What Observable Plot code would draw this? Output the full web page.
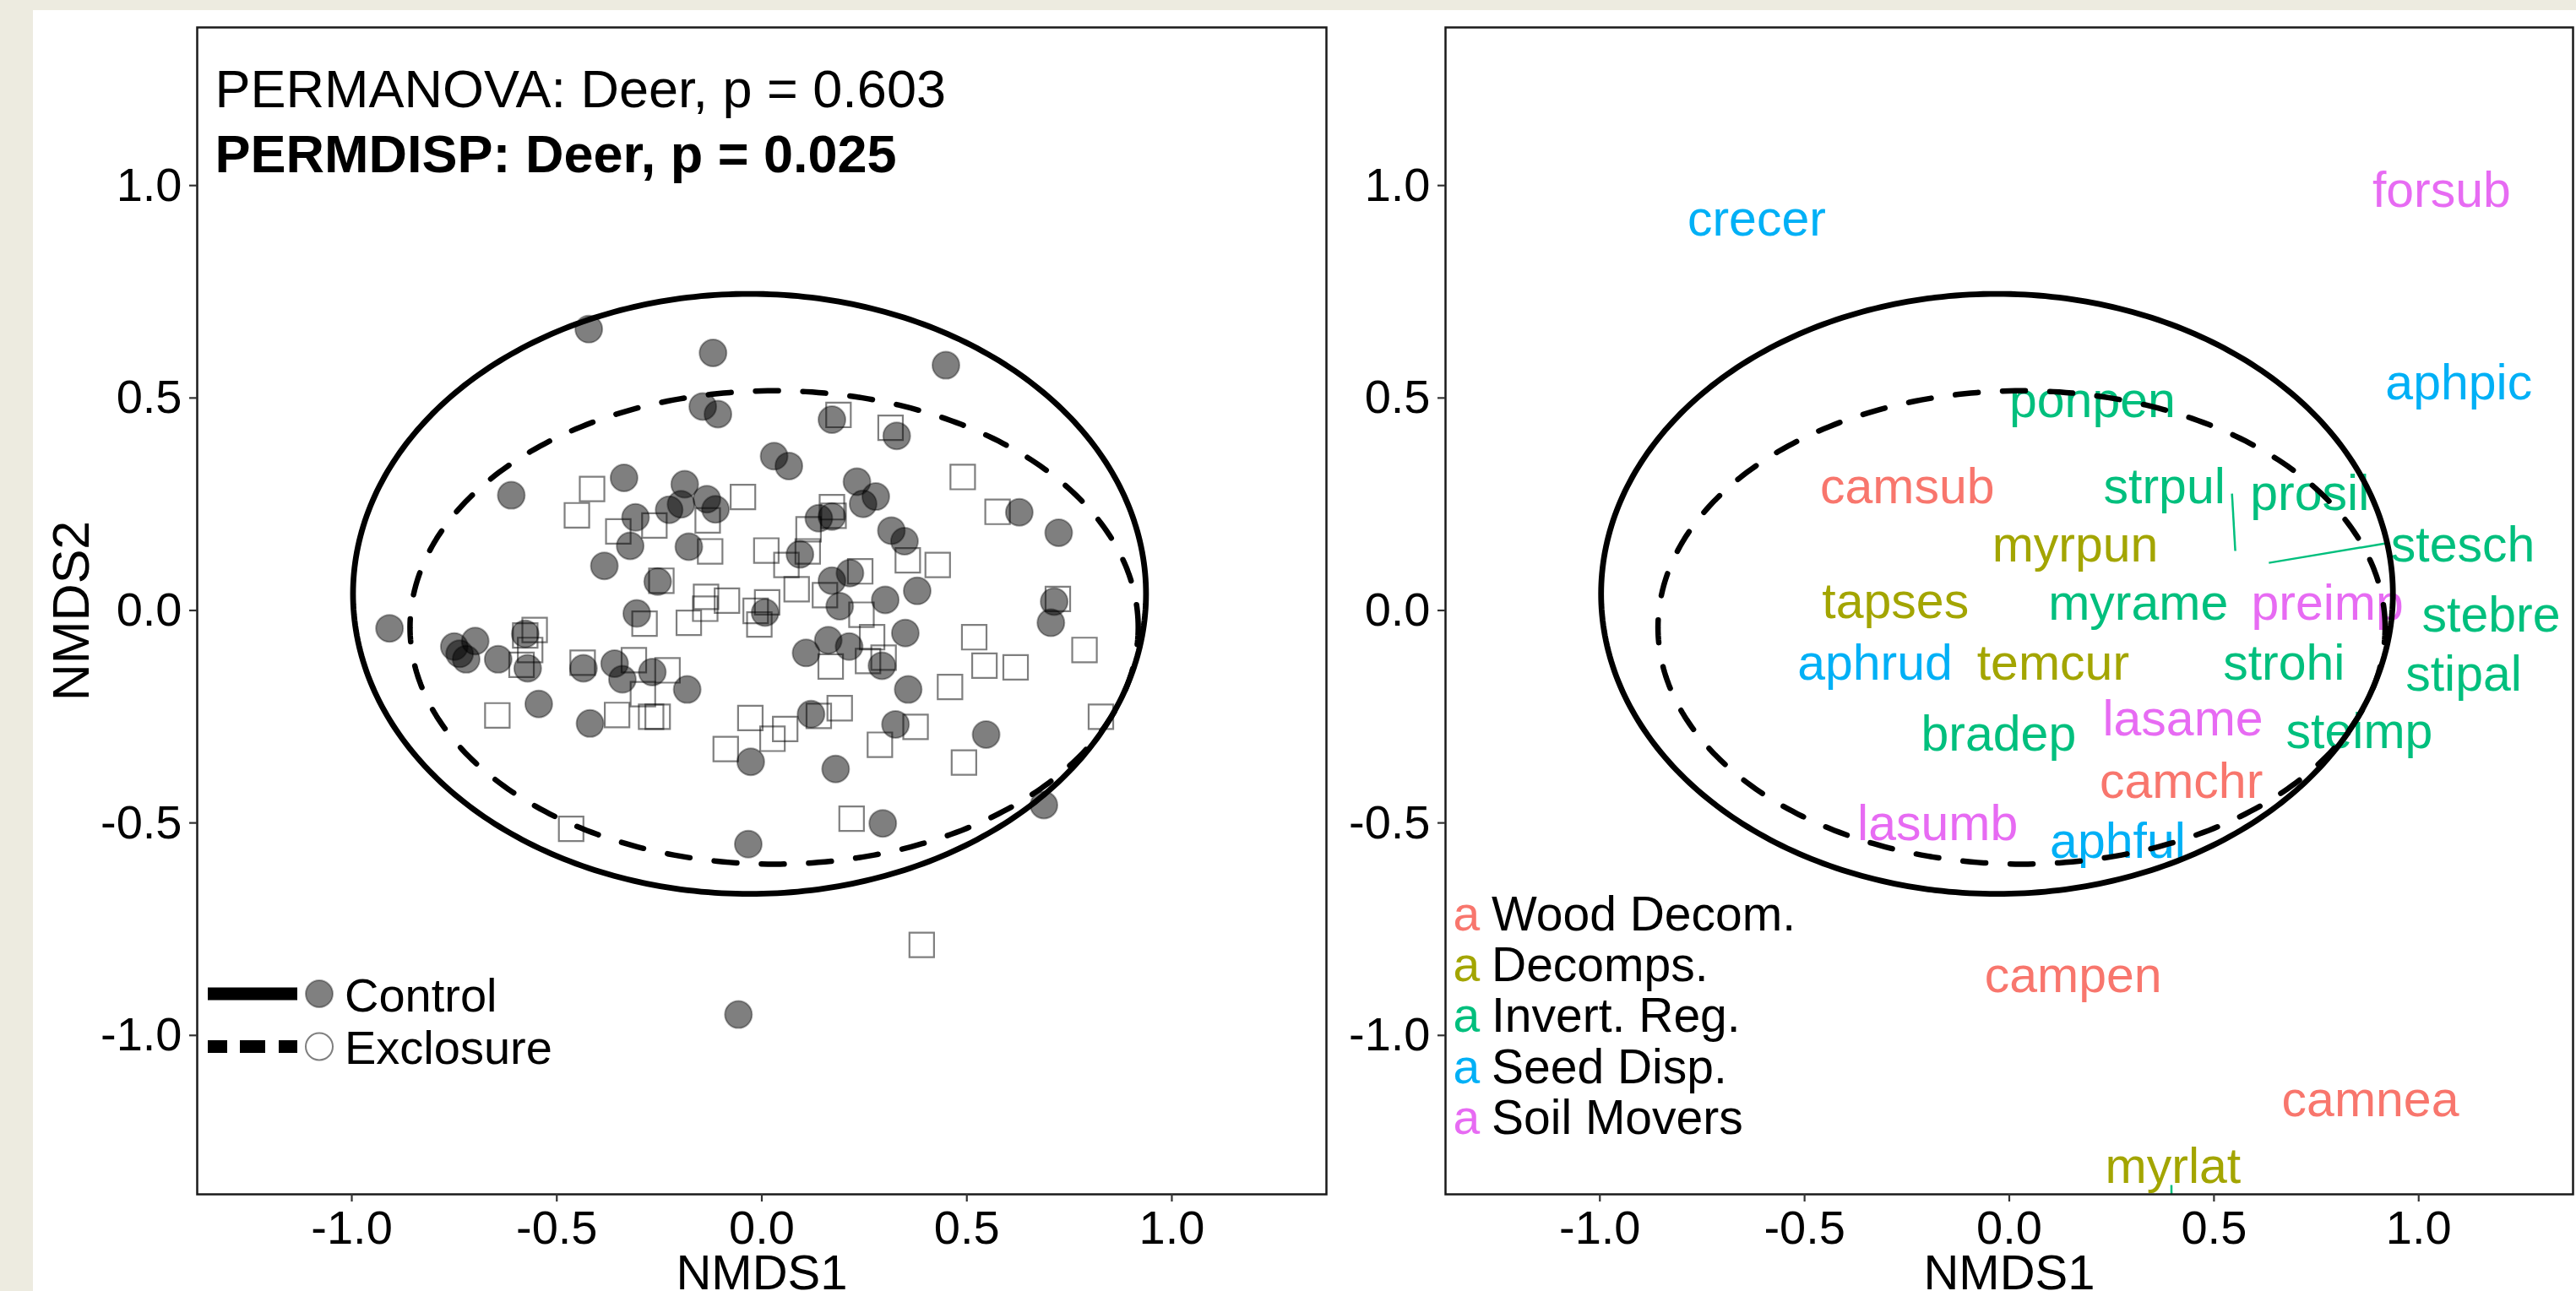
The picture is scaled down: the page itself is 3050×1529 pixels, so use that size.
<!DOCTYPE html>
<html>
<head>
<meta charset="utf-8">
<script src="https://cdn.jsdelivr.net/npm/d3@7"></script>
<script src="https://cdn.jsdelivr.net/npm/@observablehq/plot@0.6"></script>
<style>
html, body { margin: 0; padding: 0; }
body { width: 3050px; height: 1529px; overflow: hidden; background: #EDEBE0; position: relative;
       font-family: "Liberation Sans", Arial, Helvetica, sans-serif; }
#page { position: absolute; left: 39px; top: 12px; width: 3011px; height: 1517px; background: #fff; }
.abs { position: absolute; }
</style>
</head>
<body>
<div id="page"></div>
<script>
// ---------------- data ----------------
const controlX = [-0.422,-0.119,0.449,-0.144,-0.107,0.171,0.329,0.030,0.066,-0.611,
  -0.336,0.232,0.278,0.247,-0.188,-0.134,-0.197,-0.226,-0.113,-0.308,
  0.139,0.171,0.628,0.724,-0.321,-0.178,0.316,0.348,0.093,-0.384,
  0.215,0.171,-0.254,0.379,0.301,0.190,0.713,0.705,-0.305,0.008,
  -0.908,-0.577,0.350,-0.750,-0.699,-0.737,-0.721,-0.643,-0.571,0.162,
  0.213,0.108,0.293,-0.435,-0.359,-0.267,-0.340,-0.182,0.357,-0.544,
  -0.419,0.120,0.326,0.547,-0.027,0.180,0.688,0.295,-0.033,-0.057];
const controlY = [0.662,0.606,0.577,0.480,0.462,0.449,0.411,0.363,0.340,0.271,
  0.312,0.303,0.268,0.251,0.297,0.262,0.250,0.237,0.238,0.219,
  0.217,0.221,0.231,0.183,0.152,0.150,0.188,0.163,0.132,0.105,
  0.088,0.070,0.068,0.046,0.025,0.010,0.021,-0.029,-0.007,-0.005,
  -0.042,-0.055,-0.053,-0.085,-0.072,-0.102,-0.115,-0.115,-0.136,-0.070,
  -0.085,-0.100,-0.130,-0.136,-0.125,-0.145,-0.162,-0.186,-0.186,-0.220,
  -0.266,-0.244,-0.268,-0.292,-0.356,-0.373,-0.458,-0.501,-0.550,-0.951];

const exclosureX = [0.187,0.314,0.490,-0.414,-0.451,-0.350,-0.262,-0.132,-0.046,0.171,
  0.175,0.114,0.575,-0.126,0.011,0.112,0.060,0.356,0.429,-0.245,
  0.240,0.085,0.154,0.722,-0.136,-0.085,-0.138,0.013,-0.015,-0.178,
  0.243,-0.006,-0.286,-0.554,-0.577,-0.565,-0.586,0.269,0.518,0.297,
  0.259,0.168,0.787,-0.437,-0.312,-0.230,0.543,0.619,-0.290,0.459,
  -0.645,-0.353,-0.270,-0.254,-0.028,0.057,0.026,0.139,0.190,0.375,
  -0.088,0.288,0.827,0.493,0.219,-0.465,0.390];
const exclosureY = [0.460,0.430,0.314,0.286,0.224,0.186,0.200,0.212,0.267,0.243,
  0.223,0.191,0.232,0.139,0.141,0.139,0.107,0.118,0.107,0.070,
  0.092,0.050,0.036,0.027,0.032,0.023,0.004,0.019,-0.001,-0.029,
  -0.010,-0.033,-0.031,-0.046,-0.059,-0.093,-0.128,-0.063,-0.063,-0.111,
  -0.119,-0.132,-0.093,-0.123,-0.117,-0.141,-0.130,-0.134,-0.197,-0.180,
  -0.247,-0.246,-0.250,-0.250,-0.253,-0.279,-0.302,-0.248,-0.230,-0.274,
  -0.326,-0.316,-0.250,-0.358,-0.490,-0.514,-0.787];

// group ellipses: centre and semi-axes
const ellipseGroups  = ["Control", "Exclosure"];
const ellipseCenterX = [-0.030, 0.030];
const ellipseCenterY = [0.039, -0.040];
const ellipseRadiusX = [0.967, 0.888];
const ellipseRadiusY = [0.706, 0.557];

const speciesNames = ["crecer","forsub","aphpic","ponpen","camsub","strpul","prosil","myrpun","stesch","tapses",
  "myrame","preimp","stebre","aphrud","temcur","strohi","stipal","bradep","lasame","steimp",
  "camchr","lasumb","aphful","campen","camnea","myrlat"];
const speciesX = [-0.617,1.056,1.098,0.203,-0.249,0.379,0.734,0.161,1.108,-0.278,
  0.315,0.777,1.177,-0.328,0.107,0.671,1.110,-0.026,0.424,0.855,
  0.420,-0.175,0.265,0.156,0.882,0.400];
const speciesY = [0.919,0.988,0.535,0.492,0.289,0.289,0.274,0.152,0.152,0.019,
  0.015,0.015,-0.013,-0.126,-0.126,-0.126,-0.151,-0.293,-0.256,-0.287,
  -0.403,-0.503,-0.545,-0.861,-1.153,-1.309];
const speciesGroup = ["Seed Disp.","Soil Movers","Seed Disp.","Invert. Reg.","Wood Decom.","Invert. Reg.","Invert. Reg.","Decomps.","Invert. Reg.","Decomps.",
  "Invert. Reg.","Soil Movers","Invert. Reg.","Seed Disp.","Decomps.","Invert. Reg.","Invert. Reg.","Invert. Reg.","Soil Movers","Invert. Reg.",
  "Wood Decom.","Soil Movers","Seed Disp.","Wood Decom.","Wood Decom.","Decomps."];

const groupNames  = ["Wood Decom.", "Decomps.", "Invert. Reg.", "Seed Disp.", "Soil Movers"];
const groupColors = ["#F8766D", "#A3A500", "#00BF7D", "#00B0F6", "#E76BF3"];

// label connector segments (label -> species point)
const connectorX1 = [0.544, 0.920, 0.396];
const connectorY1 = [0.275, 0.158, -1.352];
const connectorX2 = [0.552, 0.634, 0.397];
const connectorY2 = [0.140, 0.112, -1.450];

const axisTicks = [-1, -0.5, 0, 0.5, 1];
const xDomain = [-1.377, 1.377];
const yDomain = [-1.374, 1.372];
const statLines = ["PERMANOVA: Deer, p = 0.603", "PERMDISP: Deer, p = 0.025"];
const legendTreatments = ["Control", "Exclosure"];

// ---------------- derived tables ----------------
const controlData = controlX.map((x, i) => ({x, y: controlY[i]}));
const exclosureData = exclosureX.map((x, i) => ({x, y: exclosureY[i]}));
const ellipseData = ellipseGroups.flatMap((g, i) => d3.range(0, 361).map(k => {
  const t = k * Math.PI / 180;
  return {group: g, x: ellipseCenterX[i] + ellipseRadiusX[i] * Math.cos(t), y: ellipseCenterY[i] + ellipseRadiusY[i] * Math.sin(t)};
}));
const ellControl = ellipseData.filter(d => d.group === "Control");
const ellExcl = ellipseData.filter(d => d.group === "Exclosure");
const speciesData = speciesNames.map((name, i) => ({name, x: speciesX[i], y: speciesY[i], group: speciesGroup[i]}));
const connectorData = connectorX1.map((x1, i) => ({x1, y1: connectorY1[i], x2: connectorX2[i], y2: connectorY2[i]}));

const FONT = '"Liberation Sans", Arial, Helvetica, sans-serif';
const fmt = d => d.toFixed(1);
const style = {fontFamily: FONT, fontSize: "56px", background: "transparent", maxWidth: "none", color: "#000", overflow: "visible"};

function axes() {
  return [
    Plot.frame({stroke: "#1a1a1a", strokeWidth: 2.5}),
    Plot.axisX({ticks: axisTicks, tickFormat: fmt, tickSize: 9, tickPadding: 10, stroke: "#333", strokeWidth: 2.2, fill: "#000", fontSize: 56, label: null}),
    Plot.axisY({ticks: axisTicks, tickFormat: fmt, tickSize: 9, tickPadding: 9, stroke: "#333", strokeWidth: 2.2, fill: "#000", fontSize: 56, label: null}),
    Plot.text(["NMDS1"], {text: d => d, frameAnchor: "bottom", dy: 71, lineAnchor: "top", textAnchor: "middle", fontSize: 58, fill: "#000"})
  ];
}

// ---------------- left panel ----------------
const left = Plot.plot({
  width: 1601, height: 1517,
  marginLeft: 194, marginRight: 70, marginTop: 20, marginBottom: 115,
  x: {domain: xDomain},
  y: {domain: yDomain},
  style,
  marks: [
    Plot.line(ellControl, {x: "x", y: "y", stroke: "#000", strokeWidth: 6.8}),
    Plot.line(ellExcl, {x: "x", y: "y", stroke: "#000", strokeWidth: 6.5, strokeDasharray: "27,29"}),
    Plot.dot(exclosureData, {x: "x", y: "y", r: 16.4, symbol: "square", fill: "none", stroke: "#000", strokeOpacity: 0.5, strokeWidth: 2.2}),
    Plot.dot(controlData, {x: "x", y: "y", r: 16, fill: "#000", fillOpacity: 0.5, stroke: "#000", strokeOpacity: 0.35, strokeWidth: 2}),
    ...axes(),
    Plot.text(["NMDS2"], {text: d => d, frameAnchor: "left", dx: -172, rotate: -90, lineAnchor: "top", textAnchor: "middle", fontSize: 61, fill: "#000"}),
    Plot.text([statLines[0]], {text: d => d, frameAnchor: "top-left", dx: 21, dy: 50, lineAnchor: "top", textAnchor: "start", fontSize: 63, fill: "#000"}),
    Plot.text([statLines[1]], {text: d => d, frameAnchor: "top-left", dx: 21, dy: 127, lineAnchor: "top", textAnchor: "start", fontSize: 63, fontWeight: "bold", fill: "#000"})
  ]
});
left.classList.add("abs");
left.style.left = "39px"; left.style.top = "12px";
document.body.appendChild(left);

// ---------------- right panel ----------------
const right = Plot.plot({
  width: 1410, height: 1517,
  marginLeft: 71, marginRight: 4, marginTop: 20, marginBottom: 115,
  x: {domain: xDomain},
  y: {domain: yDomain},
  color: {domain: groupNames, range: groupColors},
  style,
  marks: [
    Plot.text(speciesData, {x: "x", y: "y", text: "name", fill: "group", fontSize: 59, lineAnchor: "middle"}),
    Plot.link(connectorData, {x1: "x1", y1: "y1", x2: "x2", y2: "y2", stroke: groupColors[2], strokeWidth: 2.5, clip: true}),
    Plot.line(ellControl, {x: "x", y: "y", stroke: "#000", strokeWidth: 6.8}),
    Plot.line(ellExcl, {x: "x", y: "y", stroke: "#000", strokeWidth: 6.5, strokeDasharray: "27,29"}),
    ...axes()
  ]
});
right.classList.add("abs");
right.style.left = "1640px"; right.style.top = "12px";
document.body.appendChild(right);

// ---------------- legends (overlaid inside the panels) ----------------
// treatment legend, left panel
const lg = d3.select("body").append("svg").attr("class", "abs")
  .style("left", "230px").style("top", "1150px")
  .attr("width", 440).attr("height", 130)
  .style("font-family", FONT).style("overflow", "visible");
legendTreatments.forEach((t, i) => {
  const cy = i === 0 ? 27 : 89.5;
  const line = lg.append("line").attr("x1", 16).attr("x2", 122).attr("y1", cy).attr("y2", cy)
    .attr("stroke", "#000").attr("stroke-width", 15);
  if (i === 1) line.attr("stroke-dasharray", "23,15,30,16,22,100");
  lg.append("circle").attr("cx", 148).attr("cy", cy).attr("r", 16)
    .attr("fill", i === 0 ? "#808080" : "#fff")
    .attr("stroke", "#000").attr("stroke-opacity", i === 0 ? 0.35 : 0.5).attr("stroke-width", 2);
  lg.append("text").attr("x", 178).attr("y", cy + 20.5).attr("font-size", 56).attr("fill", "#000").text(t);
});

// functional group legend, right panel
const rg = d3.select("body").append("svg").attr("class", "abs")
  .style("left", "1700px").style("top", "1040px")
  .attr("width", 460).attr("height", 330)
  .style("font-family", FONT).style("overflow", "visible");
groupNames.forEach((g, i) => {
  const by = 61.5 + i * 60.4;
  rg.append("text").attr("x", 20.6).attr("y", by).attr("font-size", 57).attr("fill", groupColors[i]).text("a");
  rg.append("text").attr("x", 66).attr("y", by).attr("font-size", 57).attr("fill", "#000").text(g);
});
</script>
</body>
</html>
